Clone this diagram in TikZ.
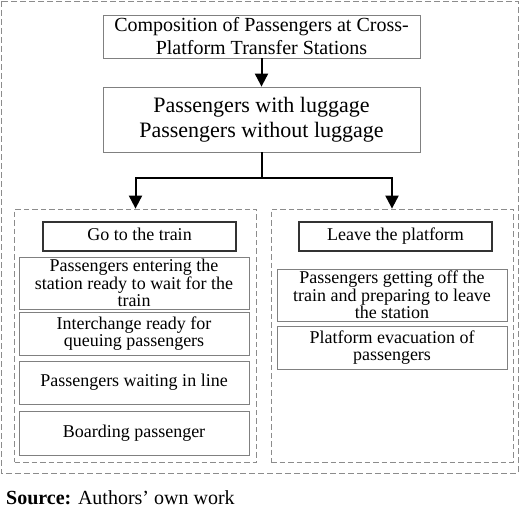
\documentclass[tikz,border=0pt]{standalone}
\usepackage{fontspec}
\setmainfont{Liberation Serif}
\usepackage{tikz}
\usetikzlibrary{shapes,arrows.meta,calc,positioning}

\begin{document}
\begin{tikzpicture}[x=1pt, y=-1pt, arrow/.style = {line width=2pt, -{Triangle[length=13pt,width=13pt]}}]
		\tikzset{box/.style={draw=black!50,rectangle,inner sep=0pt,align=center,line width=0.8pt,font=\fontsize{18}{17.5}\selectfont},
			head/.style={box,draw=black!80,line width=1.2pt,minimum width=193pt,minimum height=29pt,text height=12pt,text depth=4pt},
			frame/.style={draw=black!45,dashed,dash pattern=on 5.5pt off 3pt,line width=0.8pt,rectangle,minimum width=242pt,minimum height=253pt}}
		\useasboundingbox (0,0) rectangle (520,519);

		% Outer frame
		\draw[draw=black!45, dash pattern=on 6pt off 3pt, line width=0.9pt] (1,1) rectangle (518,473);

		% Top
		\node[box, minimum width=317pt, minimum height=43pt, font=\fontsize{20}{23}\selectfont] (comp) at (261.5,36.5) {Composition of Passengers at Cross-\\Platform Transfer Stations};
		\node[box, below of =comp, node distance = 83pt, minimum width=317pt, minimum height=65pt, font=\fontsize{22}{25}\selectfont] (groups) {Passengers with luggage\\Passengers without luggage};

		% Frames
		\node[frame] (toframe) at (135.5,335.5) {};
		\node[frame, right of =toframe, node distance = 256.5pt] (offframe) {};

		% Go to the train
		\node[head] (gotrain) at (139.5,236.5) {Go to the train};
		\node[box, minimum width=230pt, minimum height=52pt] (enter) at (134,283) {Passengers entering the\\station ready to wait for the\\train};
		\node[box, below of =enter, node distance = 50.5pt, minimum width=230pt, minimum height=43pt] (interchange) {Interchange ready for\\queuing passengers};
		\node[box, below of =interchange, node distance = 49pt, minimum width=230pt, minimum height=43pt] (waiting) {Passengers waiting in line};
		\node[box, below of =waiting, node distance = 50.5pt, minimum width=230pt, minimum height=44pt] (boarding) {Boarding passenger};

		% Leave the platform
		\node[head] (leave) at (395.5,236.5) {Leave the platform};
		\node[box, minimum width=230pt, minimum height=52pt] (getoff) at (392,295) {Passengers getting off the\\train and preparing to leave\\the station};
		\node[box, below of =getoff, node distance = 52.5pt, minimum width=230pt, minimum height=43pt] (evacuation) {Platform evacuation of\\passengers};

		% Arrows
		\coordinate (split) at (261.5,178);
		\draw [arrow] (comp) -- (groups);
		\draw [line width=2pt] (groups) -- (split);
		\draw [arrow] (split) -| (toframe.north);
		\draw [arrow] (split) -| (offframe.north);

		% Source
		\node[anchor=base west, inner sep=0pt, font=\fontsize{20}{23}\selectfont] (source) at (6,504) {\textbf{Source:} Authors’ own work};

	\end{tikzpicture}
\end{document}
